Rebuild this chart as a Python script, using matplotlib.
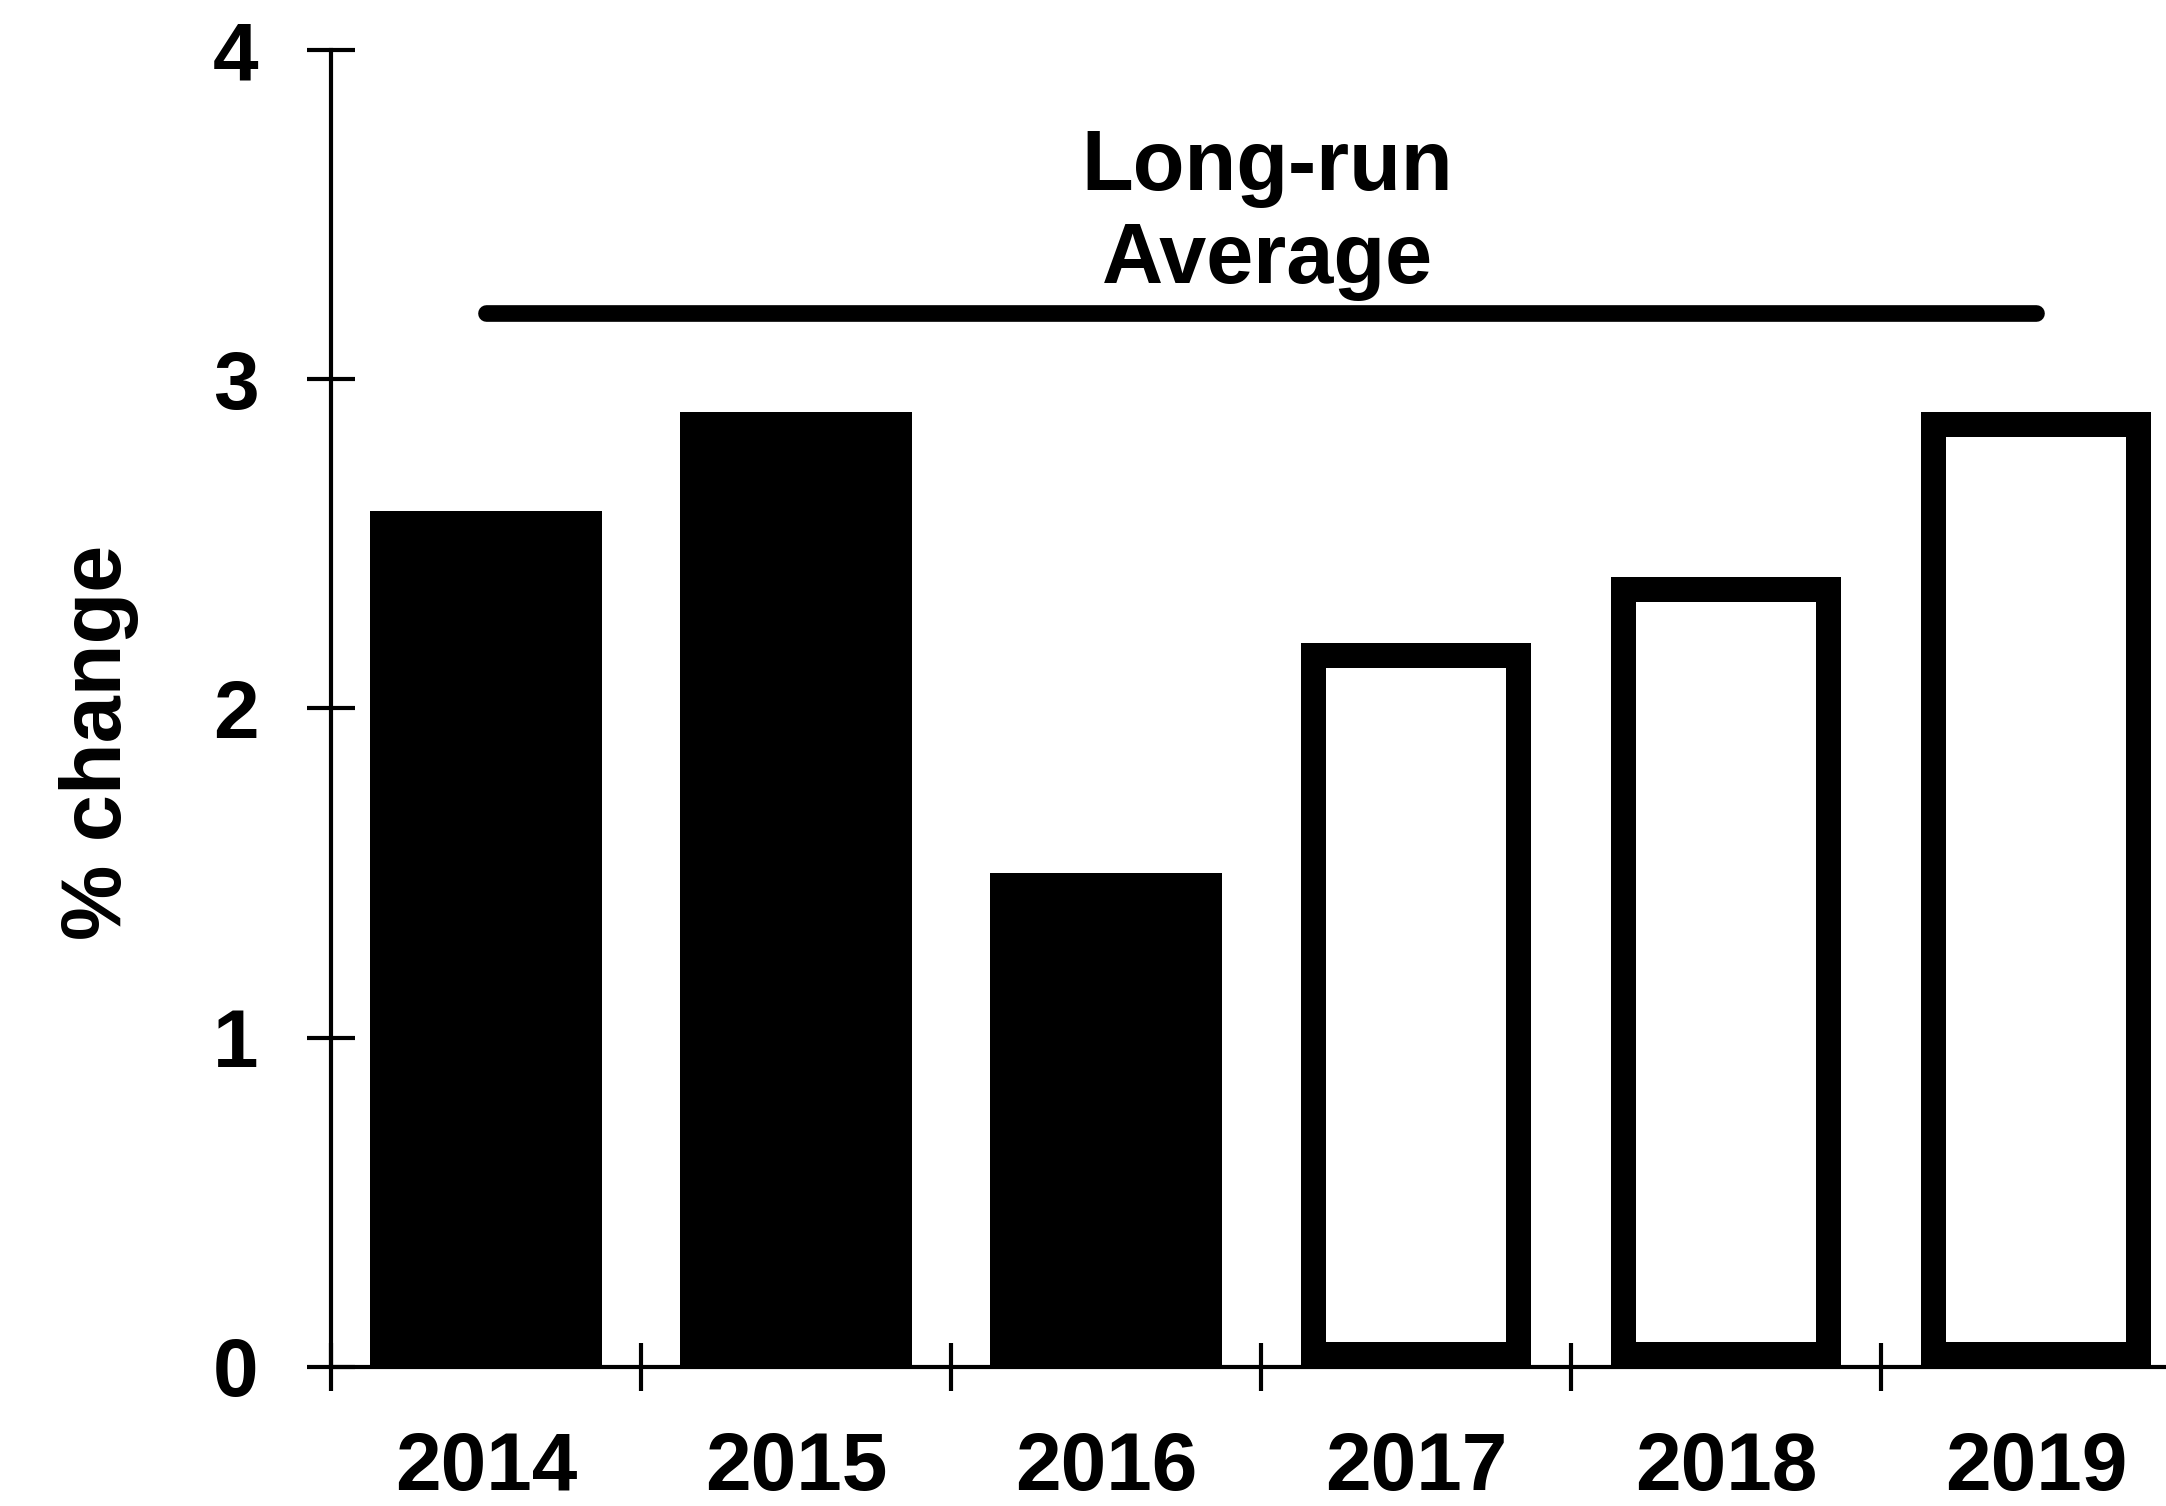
import matplotlib
matplotlib.use("Agg")
import matplotlib.pyplot as plt

years = ["2014", "2015", "2016", "2017", "2018", "2019"]
growth = [2.6, 2.9, 1.5, 2.2, 2.4, 2.9]
projected = [False, False, False, True, True, True]
long_run_avg = 3.2
long_run_label = "Long-run\nAverage"
y_ticks = [0, 1, 2, 3, 4]

plt.rcParams["font.family"] = ["Liberation Sans", "DejaVu Sans"]
plt.rcParams["font.weight"] = "bold"

fig = plt.figure(figsize=(21.66, 15.06), dpi=100)
ax = fig.add_axes([0.1528, 0.0923, 0.8587, 0.8745])

x = list(range(len(years)))
for i in x:
    if projected[i]:
        b = ax.bar(i, growth[i], width=0.74, color="white", edgecolor="black",
                   linewidth=36, joinstyle="round", zorder=2)[0]
        b.set_clip_path(b)  # keep the thick outline inside the bar
    else:
        ax.bar(i, growth[i], width=0.75, color="black", edgecolor="black",
               linewidth=0, zorder=2)

# long-run average line from first to last bar centre
ax.plot([x[0], x[-1]], [long_run_avg, long_run_avg], color="black",
        linewidth=12, solid_capstyle="round", zorder=3)
ax.text((x[0] + x[-1]) / 2 + 0.02, 3.5, long_run_label, ha="center",
        va="center", fontsize=61, fontweight="bold", multialignment="center")

ax.set_xlim(-0.5, len(years) - 0.5)
ax.set_ylim(0, 4)

ax.set_xticks(x)
ax.set_xticklabels(years)
ax.set_xticks([i - 0.5 for i in range(len(years) + 1)], minor=True)
ax.tick_params(axis="x", which="major", length=0, pad=46, labelsize=59)
ax.tick_params(axis="x", which="minor", direction="inout", length=34, width=3)

ax.set_yticks(y_ticks)
ax.tick_params(axis="y", direction="inout", length=34, width=3, pad=35,
               labelsize=59)

for lbl in ax.get_xticklabels() + ax.get_yticklabels():
    lbl.set_fontweight("bold")

ax.set_ylabel("% change", fontsize=61, fontweight="bold")
ax.yaxis.set_label_coords(-0.103, 0.474)

for s in ["top", "right"]:
    ax.spines[s].set_visible(False)
ax.spines["left"].set_linewidth(3)
ax.spines["bottom"].set_linewidth(3)
ax.spines["bottom"].set_zorder(4)

fig.savefig("out.png", dpi=100)
